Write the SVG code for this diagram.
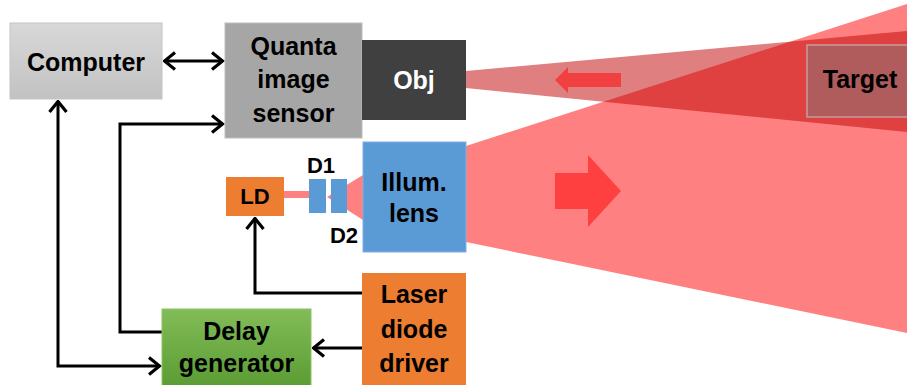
<svg xmlns="http://www.w3.org/2000/svg" width="907" height="385" viewBox="0 0 907 385">
<style>
text{font-family:"Liberation Sans",Arial,sans-serif;font-weight:bold;font-size:25px;text-anchor:middle;fill:#000}
.w{fill:#fff}
.sm{font-size:22px}
.conn{fill:none;stroke:#000;stroke-width:3}
</style>
<defs>
<linearGradient id="gc" x1="0" y1="0" x2="0" y2="1"><stop offset="0" stop-color="#d8d8d8"/><stop offset="1" stop-color="#c2c2c2"/></linearGradient>
<linearGradient id="gg" x1="0" y1="0" x2="0" y2="1"><stop offset="0" stop-color="#82bc58"/><stop offset="1" stop-color="#5b9c33"/></linearGradient>
<marker id="ah" viewBox="0 0 14 20" refX="12.5" refY="10" markerWidth="14" markerHeight="20" markerUnits="userSpaceOnUse" orient="auto-start-reverse">
<path d="M1.5,1.5 L12,10 L1.5,18.5" fill="none" stroke="#000" stroke-width="3.2"/>
</marker>
</defs>
<g id="beams">
<polygon points="440,154 466,146 907,4 907,333 466,242 440,236" fill="#ff8080"/>
<polygon points="327,197 363,175 363,220" fill="#ff8080"/>
<rect x="284" y="191" width="26" height="7" fill="#ff8080"/>
<polygon points="466,71 907,31 907,132 466,88" fill="#c00000" fill-opacity="0.5"/>
<polygon points="555,80 568,67 568,73 621,73 621,87 568,87 568,93" fill="#f04040"/>
<polygon points="555,173 588,173 588,155 621,191 588,227 588,209 555,209" fill="#ff4040"/>
</g>
<g id="connectors">
<line class="conn" x1="164" y1="61" x2="223" y2="61" marker-start="url(#ah)" marker-end="url(#ah)"/>
<path class="conn" d="M58,101 L58,366 L160,366" marker-start="url(#ah)" marker-end="url(#ah)"/>
<path class="conn" d="M162,332 L120,332 L120,124 L223,124" marker-end="url(#ah)"/>
<path class="conn" d="M362,293 L255,293 L255,218" marker-end="url(#ah)"/>
<path class="conn" d="M362,348 L313,348" marker-end="url(#ah)"/>
</g>
<g id="computer"><rect x="10" y="23" width="152" height="76" fill="url(#gc)" stroke="#c4c4c4"/><text x="86" y="71">Computer</text></g>
<g id="qis"><rect x="225" y="23" width="137" height="115" fill="#a6a6a6" stroke="#bdbdbd"/><text x="293.5" y="55">Quanta</text><text x="293.5" y="88">image</text><text x="293.5" y="122">sensor</text></g>
<g id="obj"><rect x="362" y="40" width="104" height="80" fill="#404040"/><text class="w" x="414" y="89">Obj</text></g>
<g id="illum"><rect x="363" y="142" width="103" height="110" fill="#5b9bd5" stroke="#7fb0de"/><text x="414" y="191">Illum.</text><text x="414" y="222">lens</text></g>
<g id="ld"><rect x="226" y="177" width="58" height="39" fill="#ed7d31"/><text class="sm" x="255" y="204">LD</text></g>
<g id="d1"><rect x="309" y="179" width="17" height="34" fill="#5b9bd5"/><text class="sm" x="321" y="173">D1</text></g>
<g id="d2"><rect x="331" y="179" width="16" height="34" fill="#5b9bd5"/><text class="sm" x="344" y="243">D2</text></g>
<g id="ldd"><rect x="362" y="273" width="104" height="114" fill="#ed7d31"/><text x="414" y="303">Laser</text><text x="414" y="338">diode</text><text x="414" y="372">driver</text></g>
<g id="delay"><rect x="162" y="309" width="149" height="78" fill="url(#gg)" stroke="#8cc466"/><text x="236.5" y="340">Delay</text><text x="236.5" y="372">generator</text></g>
<g id="target"><rect x="807" y="45" width="104" height="72" fill="#b05c5c" stroke="#c99a9a" stroke-width="1.5"/><text x="860" y="88">Target</text></g>
</svg>
